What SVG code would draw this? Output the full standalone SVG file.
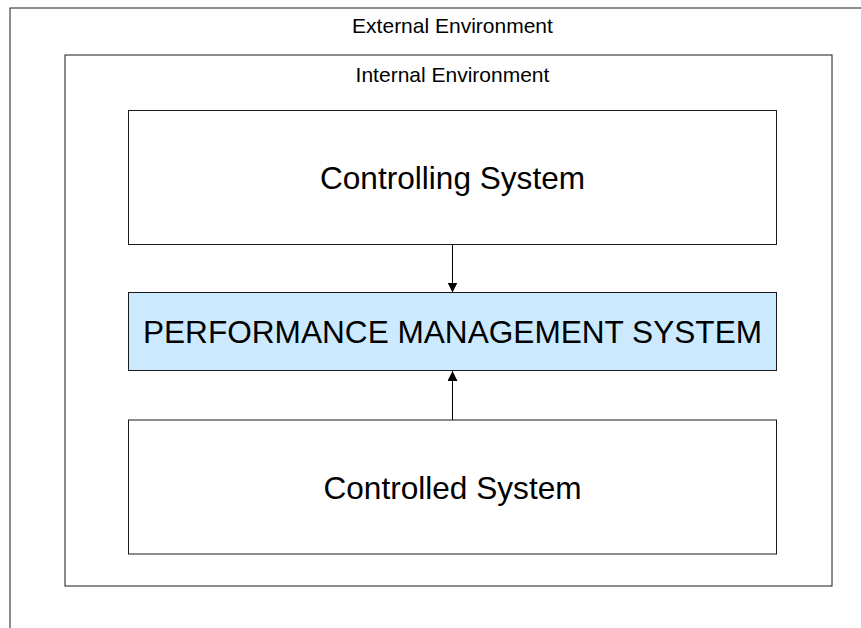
<svg xmlns="http://www.w3.org/2000/svg" width="861" height="628" viewBox="0 0 861 628">
  <style>
    .frame { fill: #ffffff; stroke: #1a1a1a; stroke-width: 1; }
    .box { fill: #ffffff; stroke: #1a1a1a; stroke-width: 1; }
    .pms { fill: #cceaff; stroke: #1a1a1a; stroke-width: 1; }
    .env { font-family: "Liberation Sans", Arial, sans-serif; font-size: 21px; fill: #000; text-anchor: middle; }
    .big { font-family: "Liberation Sans", Arial, sans-serif; font-size: 31.6px; fill: #000; text-anchor: middle; }
    .link { stroke: #000; stroke-width: 1; fill: none; }
  </style>
  <defs>
    <marker id="arrow" viewBox="0 0 10 10" refX="10" refY="5" markerWidth="10" markerHeight="10" markerUnits="userSpaceOnUse" orient="auto">
      <path d="M0,0 L10,5 L0,10 Z" fill="#000"/>
    </marker>
  </defs>

  <rect width="861" height="628" fill="#ffffff"/>

  <!-- outer environment, running off the right and bottom edges -->
  <g id="external-environment">
    <rect class="frame" x="10" y="8" width="900" height="700"/>
    <text class="env" x="452.5" y="33">External Environment</text>
  </g>

  <g id="internal-environment">
    <rect class="frame" x="65" y="55" width="767" height="531"/>
    <text class="env" x="452.5" y="81.5">Internal Environment</text>
  </g>

  <g id="controlling-system">
    <rect class="box" x="128.5" y="110.5" width="648" height="134"/>
    <text class="big" x="452.5" y="189">Controlling System</text>
  </g>

  <g id="performance-management-system">
    <rect class="pms" x="128.5" y="292.5" width="648" height="78"/>
    <text class="big" x="452.5" y="343">PERFORMANCE MANAGEMENT SYSTEM</text>
  </g>

  <g id="controlled-system">
    <rect class="box" x="128.5" y="420" width="648" height="134"/>
    <text class="big" x="452.5" y="499">Controlled System</text>
  </g>

  <g id="connectors">
    <line class="link" x1="452.5" y1="244.5" x2="452.5" y2="292.5" marker-end="url(#arrow)"/>
    <line class="link" x1="452.5" y1="420" x2="452.5" y2="371" marker-end="url(#arrow)"/>
  </g>
</svg>
